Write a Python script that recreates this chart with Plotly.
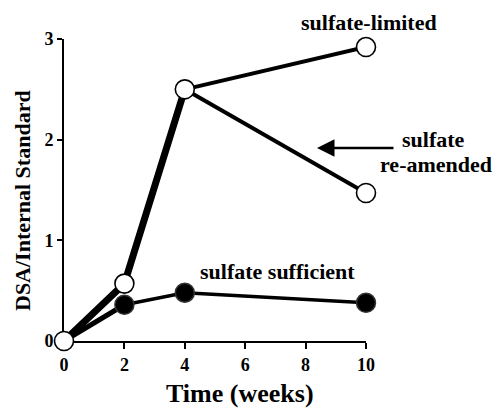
import plotly.graph_objects as go

weeks = [0, 2, 4, 10]
limited = [0.0, 0.57, 2.50, 2.92]
reamended_weeks = [4, 10]
reamended = [2.50, 1.47]
sufficient = [0.0, 0.36, 0.48, 0.38]

x_ticks = [0, 2, 4, 6, 8, 10]
y_ticks = [0, 1, 2, 3]

FONT = "Liberation Serif, Times New Roman, serif"

W, H = 493, 408
L, R, T, B = 64, 127, 39, 67
pw, ph = W - L - R, H - T - B


def px(xp, yp):
    return (xp - L) / pw, (H - B - yp) / ph


fig = go.Figure()

# sulfate sufficient (filled markers)
fig.add_trace(go.Scatter(x=weeks[:2], y=sufficient[:2], mode="lines",
                         line=dict(color="black", width=5), showlegend=False))
fig.add_trace(go.Scatter(x=weeks[1:], y=sufficient[1:], mode="lines",
                         line=dict(color="black", width=3.5), showlegend=False))
fig.add_trace(go.Scatter(x=weeks[1:], y=sufficient[1:], mode="markers",
                         marker=dict(color="black", size=19, line=dict(color="#333", width=1.5)),
                         cliponaxis=False, showlegend=False))

# sulfate-limited (open markers)
fig.add_trace(go.Scatter(x=weeks[:3], y=limited[:3], mode="lines",
                         line=dict(color="black", width=7), showlegend=False))
fig.add_trace(go.Scatter(x=weeks[2:], y=limited[2:], mode="lines",
                         line=dict(color="black", width=4), showlegend=False))
fig.add_trace(go.Scatter(x=reamended_weeks, y=reamended, mode="lines",
                         line=dict(color="black", width=4), showlegend=False))
fig.add_trace(go.Scatter(x=weeks, y=limited, mode="markers",
                         marker=dict(color="white", size=19, line=dict(color="black", width=1.6)),
                         cliponaxis=False, showlegend=False))
fig.add_trace(go.Scatter(x=reamended_weeks[1:], y=reamended[1:], mode="markers",
                         marker=dict(color="white", size=19, line=dict(color="black", width=1.6)),
                         cliponaxis=False, showlegend=False))

fig.update_layout(
    width=W, height=H,
    margin=dict(l=L, r=R, t=T, b=B, autoexpand=False),
    paper_bgcolor="white", plot_bgcolor="white",
    font=dict(family=FONT, color="black"),
    xaxis=dict(range=[0, 10], tickvals=x_ticks, ticktext=[f"<b>{v}</b>" for v in x_ticks],
               showgrid=False, zeroline=False, showline=True, linecolor="black", linewidth=2,
               ticks="outside", ticklen=6, tickwidth=2, tickcolor="black", layer="below traces",
               tickfont=dict(family=FONT, size=18), automargin=False),
    yaxis=dict(range=[0, 3], tickvals=y_ticks, ticktext=[f"<b>{v}</b>" for v in y_ticks],
               showgrid=False, zeroline=False, showline=True, linecolor="black", linewidth=2,
               ticks="outside", ticklen=5, tickwidth=2, tickcolor="black", layer="below traces",
               tickfont=dict(family=FONT, size=18), automargin=False),
)

# axis titles
tx_, ty_ = px(240, 393)
fig.add_annotation(x=tx_, y=ty_, xref="paper", yref="paper", text="<b>Time (weeks)</b>",
                   showarrow=False, font=dict(family=FONT, size=26),
                   xanchor="center", yanchor="middle")
tx_, ty_ = px(22, 201)
fig.add_annotation(x=tx_, y=ty_, xref="paper", yref="paper", text="<b>DSA/Internal Standard</b>",
                   showarrow=False, font=dict(family=FONT, size=22), textangle=-90,
                   xanchor="center", yanchor="middle")

annot_font = dict(family=FONT, size=22, color="black")
for text, xp, yp in [("<b>sulfate-limited</b>", 369, 23),
                     ("<b>sulfate sufficient</b>", 277, 271),
                     ("<b>sulfate</b>", 433, 139),
                     ("<b>re-amended</b>", 436, 164)]:
    ax_, ay_ = px(xp, yp)
    fig.add_annotation(x=ax_, y=ay_, xref="paper", yref="paper", text=text,
                       showarrow=False, font=annot_font, xanchor="center", yanchor="middle")

# arrow pointing left
hx, hy = px(317, 148)
fig.add_annotation(x=hx, y=hy, ax=78, ay=0, xref="paper", yref="paper",
                   axref="pixel", ayref="pixel",
                   text="", showarrow=True, arrowhead=2, arrowsize=1.4, arrowwidth=2.5,
                   arrowcolor="black")

fig.write_html("out.html", config={"displayModeBar": False},
               post_script="document.body.style.margin='0px';")
